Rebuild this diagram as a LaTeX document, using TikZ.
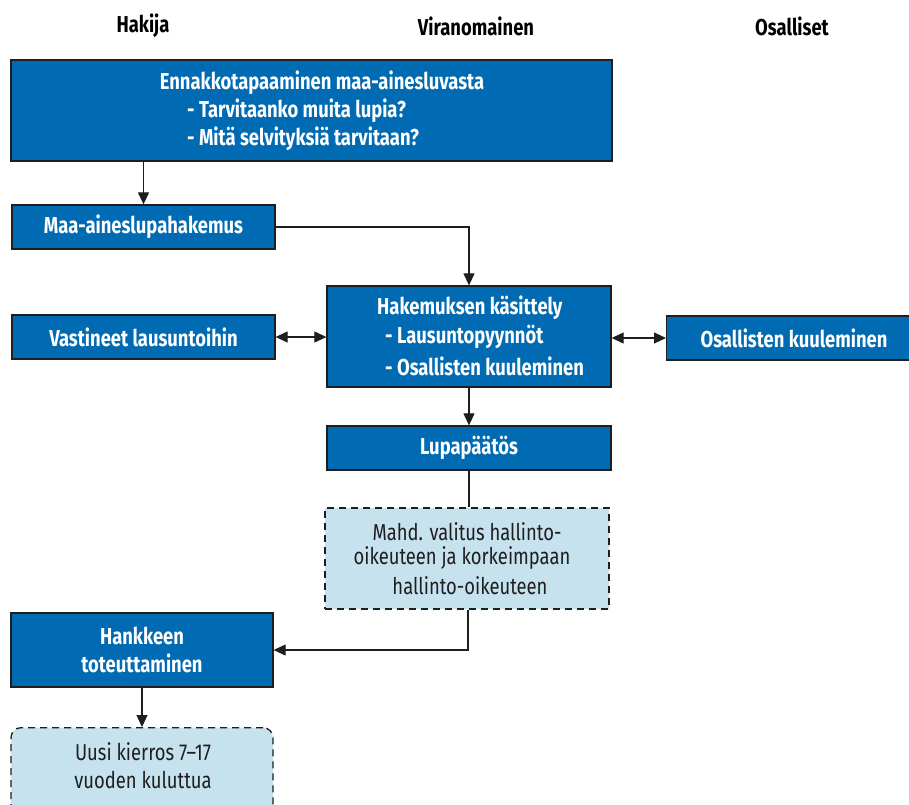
\documentclass[tikz,border=0pt]{standalone}
\usepackage{fontspec}
\setmainfont{Fira Sans}[FakeStretch=0.8]
\usetikzlibrary{arrows.meta}
\definecolor{boxblue}{HTML}{006AB2}
\definecolor{paleblue}{HTML}{C6E2EF}
\definecolor{edge}{HTML}{1E1E1E}
\begin{document}
\begin{tikzpicture}[x=1pt,y=-1pt,
  txt/.style={font=\fontsize{23}{28}\selectfont\bfseries, inner sep=0pt},
  plain/.style={font=\fontsize{23}{28}\selectfont, text=edge, inner sep=0pt},
  head/.style={txt, text=black},
  bluebox/.style={draw=edge, line width=1.3pt, fill=boxblue, text=white, txt, align=center},
  dashbox/.style={draw=edge, line width=1.3pt, dash pattern=on 7pt off 5pt, fill=paleblue,
    plain, align=center},
  whitetxt/.style={txt, text=white, anchor=west},
  conn/.style={draw=edge, line width=1.1pt},
  arr/.style={conn, -{Triangle[length=12pt,width=11pt]}},
  darr/.style={conn, {Triangle[length=12pt,width=11pt]}-{Triangle[length=12pt,width=11pt]}}]
\clip (0,0) rectangle (909,804);
\fill[white] (0,0) rectangle (909,804);

% column headings
\node[head] (hakija) at (143,26) {Hakija};
\node[head] (viranomainen) at (476,26) {Viranomainen};
\node[head] (osalliset) at (792,26) {Osalliset};

% preliminary meeting
\node[bluebox, minimum width=601pt, minimum height=101pt] (ennakko) at (311.5,110.5) {};
\node[txt, text=white] (ennakkoA) at (322,83) {Ennakkotapaaminen maa-ainesluvasta};
\node[whitetxt] (ennakkoB) at (187,111) {- Tarvitaanko muita lupia?};
\node[whitetxt] (ennakkoC) at (187,139) {- Mitä selvityksiä tarvitaan?};

% application
\node[bluebox, minimum width=263pt, minimum height=44pt] (hakemus) at (143.5,227) {Maa-aineslupahakemus};

% processing
\node[bluebox, minimum width=284pt, minimum height=101pt] (kasittely) at (469,336.5) {};
\node[whitetxt] (kasA) at (377,308) {Hakemuksen käsittely};
\node[whitetxt] (kasB) at (385,337) {- Lausuntopyynnöt};
\node[whitetxt] (kasC) at (385,366) {- Osallisten kuuleminen};

% responses and hearing
\node[bluebox, minimum width=263pt, minimum height=44pt] (vastineet) at (143.5,337) {Vastineet lausuntoihin};
\node[bluebox, minimum width=260pt, minimum height=44pt, anchor=west] (kuuleminen) at (666,338) {};
\node[txt, text=white] (kuulText) at (794,338) {Osallisten kuuleminen};

% decision
\node[bluebox, minimum width=284pt, minimum height=44pt] (paatos) at (469,448) {Lupapäätös};

% appeal
\node[dashbox, minimum width=284pt, minimum height=101pt] (valitus) at (467,558.5) {};
\node[plain] (valA) at (467,532) {Mahd. valitus hallinto-};
\node[plain] (valB) at (462,558) {oikeuteen ja korkeimpaan};
\node[plain] (valC) at (470,586) {hallinto-oikeuteen};

% implementation
\node[bluebox, minimum width=262pt, minimum height=74pt] (toteutus) at (142,650) {Hankkeen\\toteuttaminen};

% next round
\node[dashbox, rounded corners=10pt, minimum width=262pt, minimum height=100pt, anchor=north] (kierros) at (142,727) {};
\node[plain, align=center] (kierrosText) at (143,766) {Uusi kierros 7–17\\vuoden kuluttua};

% connectors
\draw[arr] (ennakko.south -| hakemus) -- (hakemus.north);
\draw[arr] (hakemus.east) -| (kasittely.north);
\draw[darr] (vastineet.east) -- (vastineet.east -| kasittely.west);
\draw[darr] (kasittely.east |- kuuleminen.west) -- (kuuleminen.west);
\draw[arr] (kasittely.south -| paatos) -- (paatos.north);
\draw[conn] (paatos.south) -- (paatos.south |- valitus.north);
\coordinate (turn) at (468,650);
\draw[arr] (valitus.south -| turn) -- (turn) -- (toteutus.east);
\draw[arr] (toteutus.south) -- (kierros.north);
\end{tikzpicture}
\end{document}
